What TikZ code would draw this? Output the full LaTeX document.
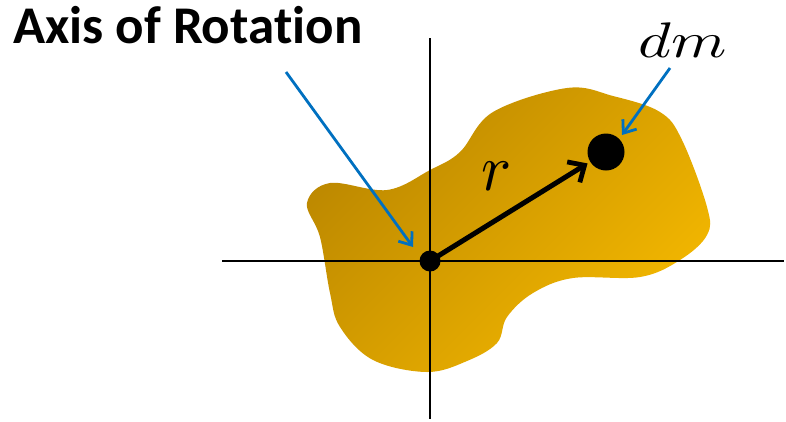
\documentclass[tikz,border=0pt]{standalone}
\usepackage{fontspec}
\newfontfamily\labelfont[Ligatures=NoCommon]{Carlito}
\usetikzlibrary{arrows.meta,positioning}
\definecolor{golddark}{HTML}{BC8800}
\definecolor{goldlight}{HTML}{F4B800}
\definecolor{pointerblue}{HTML}{0070C0}

\begin{document}
\begin{tikzpicture}[
  x=1pt, y=-1pt,
  axisline/.style={line width=1.6pt, black},
  pointer/.style={-{Straight Barb[length=11pt,width=17pt,line width=2.8pt]},
                  line width=2.8pt, pointerblue},
  radius vec/.style={-{Straight Barb[length=13pt,width=24pt,line width=4.8pt]},
                     line width=5pt, line cap=round},
  dot/.style={circle, fill=black, inner sep=0pt},
  mathlabel/.style={anchor=base, inner sep=0pt, transform shape}
]
\useasboundingbox (0,0) rectangle (786,421);

% the body
\path[shade, shading=axis, top color=golddark, bottom color=goldlight,
      shading angle=45]
  plot[smooth cycle, tension=0.6] coordinates {
    (307,203) (330,183) (387,190) (430,170) (460,152) (493,112)
    (567,88) (613,96) (660,112) (682,140) (707,207) (707,235)
    (680,260) (640,277) (573,278) (533,293) (507,317) (497,343)
    (467,361) (427,372) (373,360) (340,327) (330,293) (320,237)};

% axes
\coordinate (xl) at (222,261);
\coordinate (xr) at (784,261);
\coordinate (yt) at (430,38);
\coordinate (yb) at (430,419);
\draw[axisline] (xl) -- (xr);
\draw[axisline] (yt) -- (yb);

% points
\node[dot, minimum size=21pt] (o)  at (430,261) {};
\node[dot, minimum size=37pt] (dm) at (606,152) {};

% labels
\node[font=\labelfont\bfseries\fontsize{53}{56}\selectfont, anchor=base west,
      inner sep=0pt] (axis) at (13,43) {Axis of Rotation};
\node[mathlabel, xscale=6.3, yscale=6.6] (rlab) at (497,190) {$r$};
\node[mathlabel, xscale=6.3, yscale=5.0] (dmlab) at (683,57) {$dm$};

% arrows
\coordinate (axtail) at (286,72);
\coordinate (axtip)  at (413,247);
\coordinate (dmtail) at (670,68);
\coordinate (dmtip)  at (622,135);
\draw[radius vec, shorten >=3pt] (o.center) -- (dm);
\draw[pointer] (axtail) -- (axtip);
\draw[pointer] (dmtail) -- (dmtip);
\end{tikzpicture}
\end{document}
